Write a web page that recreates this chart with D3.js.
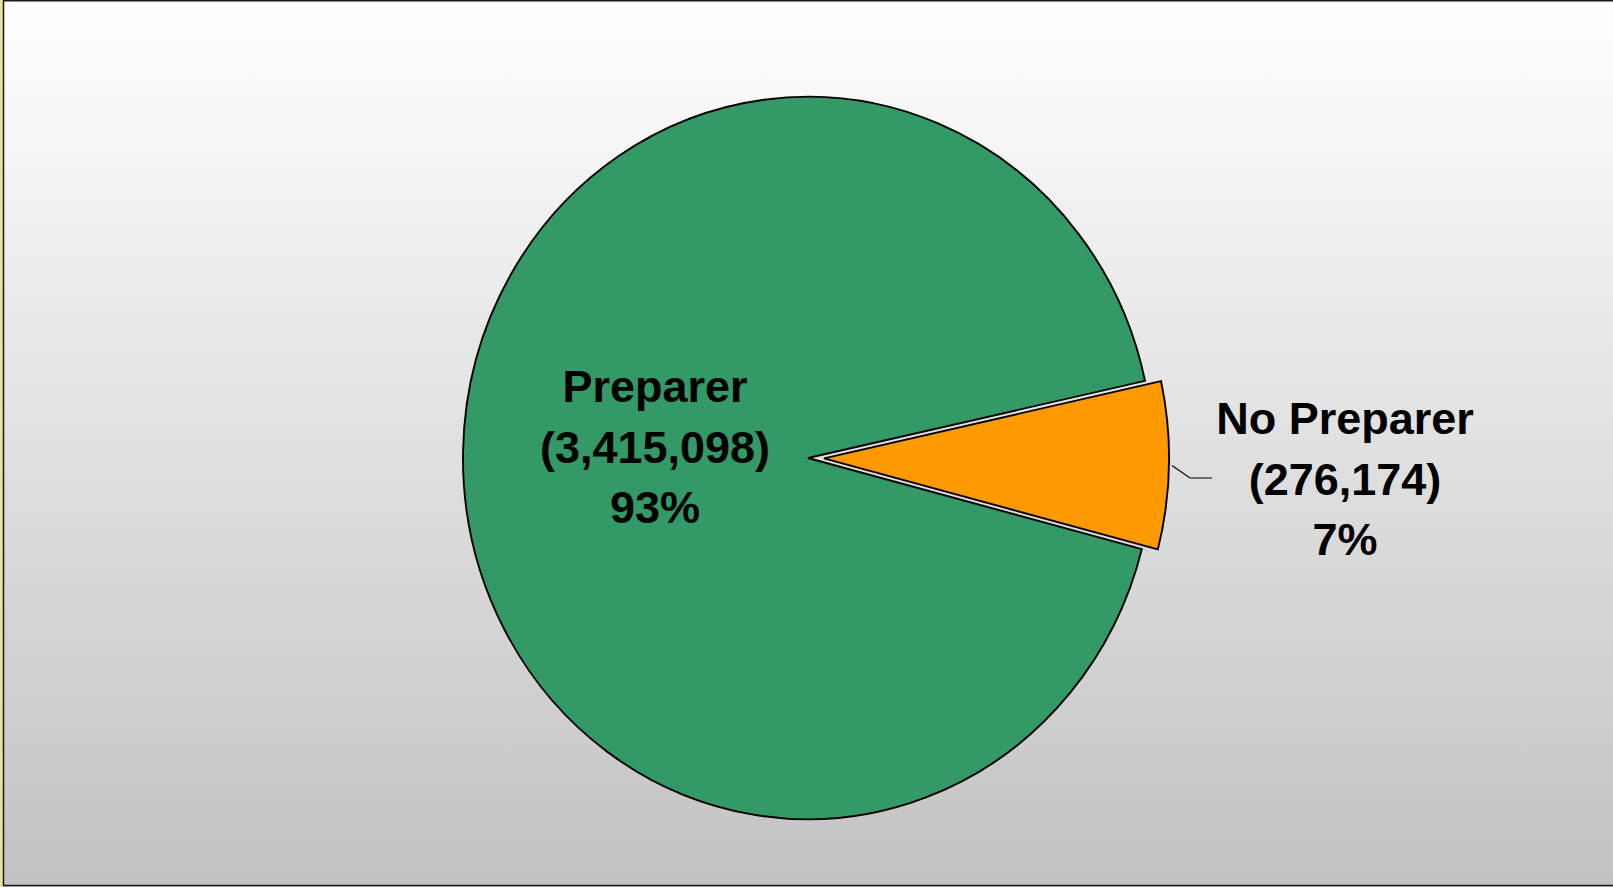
<!DOCTYPE html>
<html>
<head>
<meta charset="utf-8">
<script src="https://cdn.jsdelivr.net/npm/d3@7"></script>
<style>
  body { margin: 0; overflow: hidden; }
  svg { display: block; }
</style>
</head>
<body>
<script>
var w = 1613;
var h = 887;

// data
var categories = ["Preparer", "No Preparer"];
var values = [3415098, 276174];
var colors = ["#339966", "#ff9900"];

var cx = 808, cy = 458;
var r = 345;
var yStretch = 1.047;
var explode = 16;

var total = d3.sum(values);
var fmtNum = d3.format(",");
var fmtPct = function(v){ return Math.round(v / total * 100) + "%"; };

var svg = d3.select("body")
    .append("svg")
    .attr("width", w)
    .attr("height", h);

var defs = svg.append("defs");
var grad = defs.append("linearGradient")
    .attr("id", "bg")
    .attr("x1", 0).attr("y1", 0)
    .attr("x2", 0).attr("y2", 1);
grad.append("stop").attr("offset", "0%").attr("stop-color", "#ffffff");
grad.append("stop").attr("offset", "100%").attr("stop-color", "#c2c2c2");

svg.append("rect")
    .attr("width", w)
    .attr("height", h)
    .attr("fill", "url(#bg)");

// frame
svg.append("rect").attr("x", 0).attr("y", 0).attr("width", 3).attr("height", h).attr("fill", "#e8e2a4");
svg.append("line").attr("x1", 3.5).attr("y1", 0).attr("x2", 3.5).attr("y2", 886).attr("stroke", "#1a1a1a").attr("stroke-width", 1.5);
svg.append("line").attr("x1", 3).attr("y1", 0.75).attr("x2", w).attr("y2", 0.75).attr("stroke", "#1a1a1a").attr("stroke-width", 1.5);
svg.append("line").attr("x1", 3).attr("y1", 885.5).attr("x2", w).attr("y2", 885.5).attr("stroke", "#1a1a1a").attr("stroke-width", 1.5);

var deg = Math.PI / 180;
var pie = d3.pie()
    .sort(null)
    .startAngle(104.6 * deg)
    .endAngle(464.6 * deg);

var arcs = pie(values);

var arc = d3.arc()
    .innerRadius(0)
    .outerRadius(r);

var g = svg.append("g")
    .attr("transform", "translate(" + cx + "," + cy + ") scale(1," + yStretch + ")");

function offset(d, dist){
    var a = (d.startAngle + d.endAngle) / 2;
    return [Math.sin(a) * dist, -Math.cos(a) * dist];
}

g.selectAll("path")
    .data(arcs)
    .enter()
    .append("path")
    .attr("d", arc)
    .attr("transform", function(d, i){
        var o = i === 1 ? offset(d, explode) : [0, 0];
        return "translate(" + o[0] + "," + o[1] + ")";
    })
    .attr("fill", function(d, i){ return colors[i]; })
    .attr("stroke", "#000")
    .attr("stroke-width", 1.9)
    .attr("stroke-linejoin", "miter")
    .attr("vector-effect", "non-scaling-stroke");

// leader line for the small slice
var small = arcs[1];
var p0 = offset(small, r + explode + 3);
var leader = [
    [cx + p0[0], cy + p0[1] * yStretch],
    [1190, 478],
    [1212, 478]
];
svg.append("path")
    .attr("d", d3.line()(leader))
    .attr("fill", "none")
    .attr("stroke", "#000")
    .attr("stroke-width", 1.2);

// labels
var labelPos = [[655, 402], [1345, 434]];
var lineGap = 60.5;

svg.selectAll("text.lbl")
    .data(arcs)
    .enter()
    .append("text")
    .attr("class", "lbl")
    .attr("text-anchor", "middle")
    .attr("font-family", "Liberation Sans, Arial, sans-serif")
    .attr("font-weight", "bold")
    .attr("font-size", 45)
    .attr("fill", "#000")
    .each(function(d, i){
        var t = d3.select(this);
        var lines = [categories[i], "(" + fmtNum(values[i]) + ")", fmtPct(values[i])];
        lines.forEach(function(s, k){
            t.append("tspan")
                .attr("x", labelPos[i][0])
                .attr("y", labelPos[i][1] + k * lineGap)
                .text(s);
        });
    });
</script>
</body>
</html>
